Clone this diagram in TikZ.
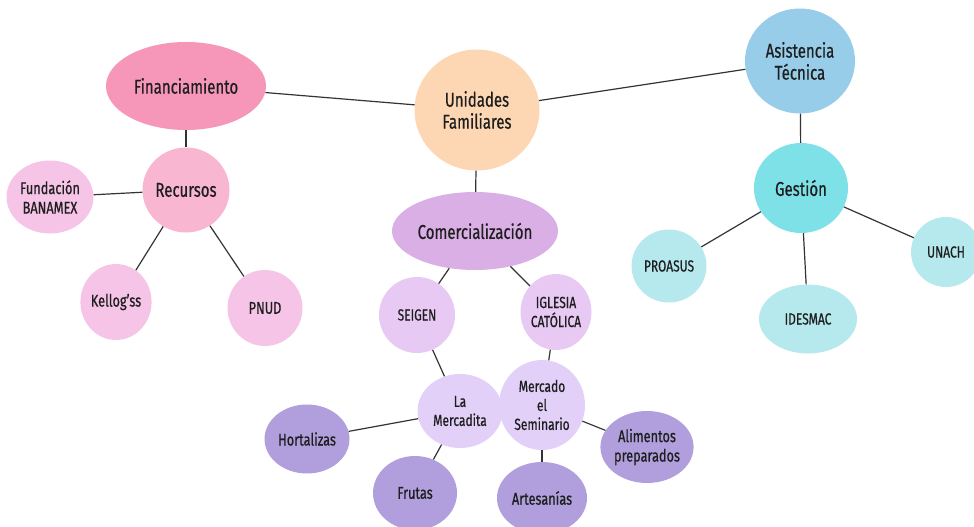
\documentclass[tikz,border=0pt]{standalone}
\usepackage{fontspec}
\setmainfont[FakeStretch=0.75,FakeBold=0.6]{Fira Sans}
\usetikzlibrary{shapes.geometric}
\definecolor{cFin}{HTML}{F697BA}
\definecolor{cRec}{HTML}{F9B6D1}
\definecolor{cPinkLeaf}{HTML}{F6C4E6}
\definecolor{cUni}{HTML}{FDD6B4}
\definecolor{cCom}{HTML}{D9AFE6}
\definecolor{cSub}{HTML}{E8C9F3}
\definecolor{cMer}{HTML}{E2D0F8}
\definecolor{cPurLeaf}{HTML}{B09FDC}
\definecolor{cAsi}{HTML}{97CDE9}
\definecolor{cGes}{HTML}{7DE1E7}
\definecolor{cCyaLeaf}{HTML}{B5E9EE}
\definecolor{cTxt}{HTML}{1E1E1E}
\definecolor{cLin}{HTML}{333333}
\newcommand\fLg{\fontsize{20}{22}\selectfont}
\newcommand\fMd{\fontsize{17}{19.5}\selectfont}
\newcommand\fSm{\fontsize{16}{19}\selectfont}
\begin{document}
\begin{tikzpicture}[x=1pt,y=-1pt,
  bub/.style={ellipse, inner sep=0pt, text=cTxt, align=center},
  conn/.style={draw=cLin, line width=1.2pt}]
\useasboundingbox (0,0) rectangle (974,527);
\clip (0,0) rectangle (974,527);
% nodes
\node[bub, fill=cFin, minimum width=160pt, minimum height=88pt, font=\fLg] (fin) at (186,86) {Financiamiento};
\node[bub, fill=cRec, minimum width=87pt, minimum height=85pt, font=\fLg] (rec) at (186,190) {Recursos};
\node[bub, fill=cPinkLeaf, minimum width=87pt, minimum height=73pt, font=\fMd] (fun) at (50,197) {Fundación\\BANAMEX};
\node[bub, fill=cPinkLeaf, minimum width=66pt, minimum height=76pt, font=\fMd] (kel) at (116,302) {Kellog’ss};
\node[bub, fill=cPinkLeaf, minimum width=75pt, minimum height=76pt, font=\fMd] (pnud) at (265,308) {PNUD};
\node[bub, fill=cUni, minimum width=125pt, minimum height=121pt, font=\fLg] (uni) at (477,110) {Unidades\\Familiares};
\node[bub, fill=cCom, minimum width=166pt, minimum height=78pt, font=\fLg] (com) at (475,231) {Comercialización};
\node[bub, fill=cSub, minimum width=76pt, minimum height=76pt, font=\fSm] (sei) at (417,315) {SEIGEN};
\node[bub, fill=cSub, minimum width=66pt, minimum height=76pt, font=\fSm] (igl) at (556,312) {IGLESIA\\CATÓLICA};
\node[bub, fill=cMer, minimum width=85pt, minimum height=74pt, font=\fSm] (lam) at (460,411) {La\\Mercadita};
\node[bub, fill=cMer, minimum width=86pt, minimum height=90pt, font=\fSm] (mes) at (542,405) {Mercado\\el\\Seminario};
\node[bub, fill=cPurLeaf, minimum width=85pt, minimum height=69pt, font=\fMd] (hor) at (307,439) {Hortalizas};
\node[bub, fill=cPurLeaf, minimum width=84pt, minimum height=74pt, font=\fMd] (fru) at (415,493) {Frutas};
\node[bub, fill=cPurLeaf, minimum width=90pt, minimum height=72pt, font=\fMd] (art) at (542,498) {Artesanías};
\node[bub, fill=cPurLeaf, minimum width=87pt, minimum height=72pt, font=\fMd] (ali) at (647,447) {Alimentos\\preparados};
\node[bub, fill=cAsi, minimum width=110pt, minimum height=105pt, font=\fLg] (asi) at (800,61) {Asistencia\\Técnica};
\node[bub, fill=cGes, minimum width=94pt, minimum height=90pt, font=\fLg] (ges) at (801,188) {Gestión};
\node[bub, fill=cCyaLeaf, minimum width=75pt, minimum height=73pt, font=\fSm] (pro) at (669,266) {PROASUS};
\node[bub, fill=cCyaLeaf, minimum width=98pt, minimum height=69pt, font=\fSm] (ide) at (808,319) {IDESMAC};
\node[bub, fill=cCyaLeaf, minimum width=70pt, minimum height=70pt, font=\fSm] (una) at (946,252) {UNACH};
% connectors
\path[conn] (fin) -- (uni);
\path[conn] (uni) -- (asi);
\path[conn] (fin) -- (rec);
\path[conn] (rec) -- (fun);
\path[conn] (rec) -- (kel);
\path[conn] (rec) -- (pnud);
\path[conn] (uni) -- (com);
\path[conn] (com) -- (sei);
\path[conn] (com) -- (igl);
\path[conn] (sei) -- (lam);
\path[conn] (igl) -- (mes);
\path[conn] (lam) -- (hor);
\path[conn] (lam) -- (fru);
\path[conn] (mes) -- (art);
\path[conn] (mes) -- (ali);
\path[conn] (asi) -- (ges);
\path[conn] (ges) -- (pro);
\path[conn] (ges) -- (ide);
\path[conn] (ges) -- (una);
\end{tikzpicture}
\end{document}
